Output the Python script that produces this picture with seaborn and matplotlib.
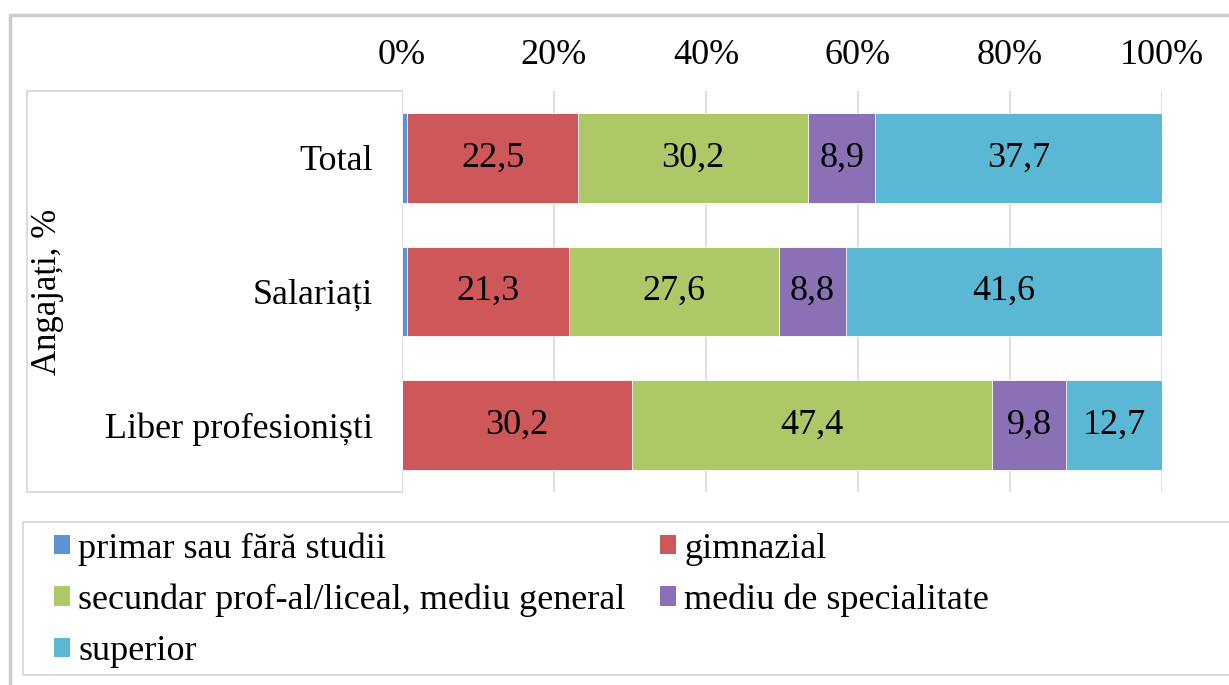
import numpy as np
import pandas as pd
import matplotlib
matplotlib.use('Agg')
import matplotlib.pyplot as plt
import seaborn as sns
from matplotlib.patches import Rectangle, Patch
from matplotlib.lines import Line2D

# data (percent of employed)
categories = ['Total', 'Salariați', 'Liber profesioniști']
levels = ['primar sau fără studii', 'gimnazial',
          'secundar prof-al/liceal, mediu general',
          'mediu de specialitate', 'superior']
primar = [0.7, 0.7, 0.0]
gimnazial = [22.5, 21.3, 30.2]
secundar = [30.2, 27.6, 47.4]
mediu_spec = [8.9, 8.8, 9.8]
superior = [37.7, 41.6, 12.7]
colors = ['#5B93D3', '#CD5759', '#ADC866', '#8A70B4', '#5AB8D4']
ticks = [0, 20, 40, 60, 80, 100]

sns.set_style('white')
plt.rcParams['font.family'] = ['Liberation Serif', 'DejaVu Serif']
plt.rcParams['text.color'] = 'black'
plt.rcParams['xtick.color'] = 'black'
plt.rcParams['ytick.color'] = 'black'
fs = 26

df = pd.DataFrame({'cat': categories, levels[0]: primar, levels[1]: gimnazial,
                   levels[2]: secundar, levels[3]: mediu_spec, levels[4]: superior})
cum = df[levels].cumsum(axis=1)

fig = plt.figure(figsize=(12.29, 6.85), dpi=100)
ax = fig.add_axes([402 / 1229, 1 - 492 / 685, 760 / 1229, 401 / 685])

# stacked bars: draw cumulative totals from the top layer down so they overlap
for lvl, col in reversed(list(zip(levels, colors))):
    sns.barplot(x=cum[lvl], y=df['cat'], orient='h', color=col, width=0.67,
                saturation=1, edgecolor='white', linewidth=0.6, ax=ax, zorder=2)

# value labels in the middle of each segment (primar is not labelled)
starts = cum[levels].shift(axis=1).fillna(0)
for i in range(len(categories)):
    for lvl in levels[1:]:
        v = df.loc[i, lvl]
        mid = starts.loc[i, lvl] + v / 2
        ax.text(mid, i, f'{v:.1f}'.replace('.', ','), ha='center', va='center',
                fontsize=fs, color='black', zorder=3)

ax.set_xlim(0, 100)
ax.set_ylim(2.5, -0.5)
ax.set_xticks(ticks)
ax.set_xticklabels([f'{t}%' for t in ticks])
ax.xaxis.tick_top()
ax.tick_params(axis='x', length=0, pad=14, labelsize=fs, labelcolor='black')
ax.tick_params(axis='y', length=0, pad=21, labelsize=fs, labelcolor='black')
ax.set_xlabel('')
ax.set_ylabel('')
for t in ticks:
    ax.axvline(t, color='#d9d9d9', lw=1.2, zorder=0)
for s in ax.spines.values():
    s.set_visible(False)

# box around the category labels
gc = '#d4d4d4'
fig.add_artist(Line2D([27 / 1229, 402 / 1229], [1 - 91 / 685, 1 - 91 / 685], color=gc, lw=1.2))
fig.add_artist(Line2D([27 / 1229, 402 / 1229], [1 - 492 / 685, 1 - 492 / 685], color=gc, lw=1.2))
fig.add_artist(Line2D([27 / 1229, 27 / 1229], [1 - 91 / 685, 1 - 492 / 685], color=gc, lw=1.2))
fig.text(48 / 1229, 1 - 292 / 685, 'Angajați, %', rotation=90, ha='center', va='center',
         fontsize=25, color='black')

# outer chart frame
fig.add_artist(Rectangle((10 / 1229, -0.1), 1.2, 1 - 15 / 685 + 0.1, transform=fig.transFigure,
                         fill=False, edgecolor='#cccccc', lw=2.5))

# legend in a box below, filled row by row
order = [0, 2, 4, 1, 3]
handles = [Patch(facecolor=colors[k], edgecolor='none') for k in order]
labels = [levels[k] for k in order]
leg = fig.legend(handles, labels, ncol=2, loc='upper left',
                 bbox_to_anchor=(54 / 1229, 1 - 532 / 685), fontsize=fs, frameon=False,
                 handlelength=0.45, handleheight=0.45, handletextpad=0.22,
                 columnspacing=0.95, labelspacing=0.5, borderaxespad=0, borderpad=0,
                 labelcolor='black')
fig.add_artist(Rectangle((23 / 1229, 1 - 675 / 685), 1.2, (675 - 522) / 685,
                         transform=fig.transFigure, fill=False, edgecolor=gc, lw=1.2))

fig.savefig('out.png', dpi=100)
